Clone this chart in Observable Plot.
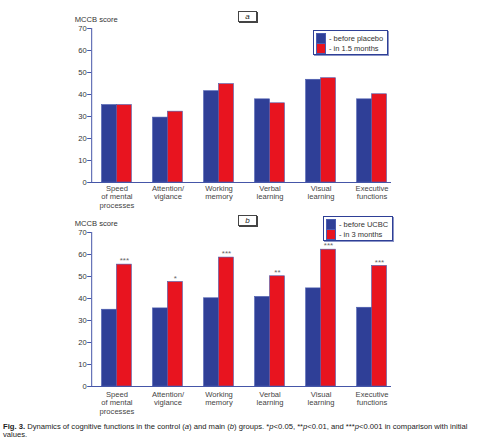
<!DOCTYPE html>
<html>
<head>
<meta charset="utf-8">
<script src="https://cdn.jsdelivr.net/npm/d3@7"></script>
<script src="https://cdn.jsdelivr.net/npm/@observablehq/plot@0.6"></script>
<style>
  body { margin: 0; background: #fff; font-family: "Liberation Sans", Arial, sans-serif; }
  .panel { position: relative; width: 479px; }
  .panel svg { display: block; }
  .tag { position: absolute; width: 17px; height: 9px; border: 1px solid #444; box-shadow: 1px 1px 0 #444;
         background: #fff; font: italic 8px "Liberation Sans", Arial, sans-serif; text-align: center; line-height: 9px; color: #222; }
  .legend { position: absolute; background: #fff; border: 1px solid #2e3f96; box-shadow: 1px 1px 0 #8b95c8;
            padding: 2px 4px 1px 2px; font-size: 7.5px; color: #333; }
  .legend div { display: flex; align-items: center; height: 10px; }
  .legend span.sw { width: 8px; height: 9px; margin-right: 3px; border: 0.5px solid #4a5cb0; }
  #caption { padding: 7px 0 0 3px; font-size: 7.65px; line-height: 8px; color: #222; white-space: nowrap; }
</style>
</head>
<body>
<div id="pa" class="panel"></div>
<div id="pb" class="panel"></div>
<div id="caption"><span><b>Fig. 3.</b></span><span> Dynamics of cognitive functions in the control (</span><i>a</i><span>) and main (</span><i>b</i><span>) groups. *</span><i>p</i><span>&lt;0.05, **</span><i>p</i><span>&lt;0.01, and ***</span><i>p</i><span>&lt;0.001 in comparison with initial</span><br><span>values.</span></div>
<script>
// categories and tick labels
const categories = ["speed", "attention", "working", "verbal", "visual", "executive"];
const tickLabels = ["Speed\nof mental\nprocesses", "Attention/\nviglance", "Working\nmemory", "Verbal\nlearning", "Visual\nlearning", "Executive\nfunctions"];
const yTicks = [0, 10, 20, 30, 40, 50, 60, 70];

// panel a: control group (placebo)
const beforeA = [35.2, 29.5, 41.5, 37.8, 46.7, 37.8];
const afterA  = [35.2, 32.2, 44.7, 36.0, 47.4, 40.1];
const legendA = ["- before placebo", "- in 1.5 months"];

// panel b: main group (UCBC)
const beforeB = [34.9, 35.5, 40.1, 40.7, 44.6, 35.8];
const afterB  = [55.4, 47.5, 58.6, 50.1, 62.2, 54.8];
const starsB  = ["***", "*", "***", "**", "***", "***"];
const legendB = ["- before UCBC", "- in 3 months"];

const BLUE = "#2f3f97", RED = "#e8141f", AXIS = "#4556a8";
const GAP = 10.3; // space between the y axis and the first bar group

function rowsFor(before, after) {
  return categories.flatMap((c, i) => [
    {cat: c, series: "before", value: before[i]},
    {cat: c, series: "after", value: after[i]}
  ]);
}

function makeChart(el, before, after, stars, legend, tag, opts) {
  const rows = rowsFor(before, after);
  const marks = [
    Plot.barY(rows, {fx: "cat", x: "series", y: "value", fill: "series", stroke: "#4a5cb0", strokeWidth: 0.6}),
    // axis lines drawn once, stretched out past the outer groups
    Plot.frame({anchor: "bottom", facet: "super", stroke: AXIS, strokeWidth: 1, insetLeft: -GAP, insetRight: -3.5}),
    Plot.frame({anchor: "left", facet: "super", stroke: AXIS, strokeWidth: 1, dx: -GAP}),
    Plot.axisY({ticks: yTicks, tickSize: 4, tickPadding: 1, stroke: AXIS, fill: "#333",
                label: null, dx: -GAP}),
    Plot.text(["MCCB score"], {frameAnchor: "top-left", facet: "super", textAnchor: "start", lineAnchor: "middle",
                               dx: -GAP - 17, dy: -9, fill: "#333", fontSize: 7.6}),
    Plot.axisFx({anchor: "bottom", tickSize: 0, tickPadding: opts.labelPad, fill: "#444", lineHeight: 1.15,
                 tickFormat: d => tickLabels[categories.indexOf(d)], label: null})
  ];
  if (stars) {
    marks.push(Plot.text(categories.map((c, i) => ({cat: c, series: "after", value: after[i], s: stars[i]})),
      {fx: "cat", x: "series", y: "value", text: "s", dy: -4, fill: "#666", fontSize: 8}));
  }
  const chart = Plot.plot({
    width: 479,
    height: opts.height,
    marginLeft: 101.5,
    marginRight: 92.5,
    marginTop: opts.marginTop,
    marginBottom: opts.marginBottom,
    style: {fontFamily: "'Liberation Sans', Arial, sans-serif", fontSize: "7.6px", background: "#fff"},
    fx: {domain: categories, paddingInner: 0.415, paddingOuter: 0, round: false},
    x: {domain: ["before", "after"], padding: 0, round: false, axis: null},
    y: {domain: [0, 70]},
    color: {domain: ["before", "after"], range: [BLUE, RED]},
    marks
  });
  el.appendChild(chart);

  const t = document.createElement("div");
  t.className = "tag";
  t.textContent = tag;
  t.style.left = "238px";
  t.style.top = opts.tagTop + "px";
  el.appendChild(t);

  const lg = document.createElement("div");
  lg.className = "legend";
  lg.style.left = opts.legendLeft + "px";
  lg.style.top = opts.legendTop + "px";
  [BLUE, RED].forEach((c, i) => {
    const row = document.createElement("div");
    row.innerHTML = `<span class="sw" style="background:${c}"></span>${legend[i]}`;
    lg.appendChild(row);
  });
  el.appendChild(lg);
}

makeChart(document.getElementById("pa"), beforeA, afterA, null, legendA, "a",
  {height: 210, marginTop: 28, marginBottom: 28, labelPad: 2, tagTop: 11, legendLeft: 313, legendTop: 30});
makeChart(document.getElementById("pb"), beforeB, afterB, starsB, legendB, "b",
  {height: 206, marginTop: 22, marginBottom: 30, labelPad: 4, tagTop: 5, legendLeft: 323, legendTop: 6});
</script>
</body>
</html>
